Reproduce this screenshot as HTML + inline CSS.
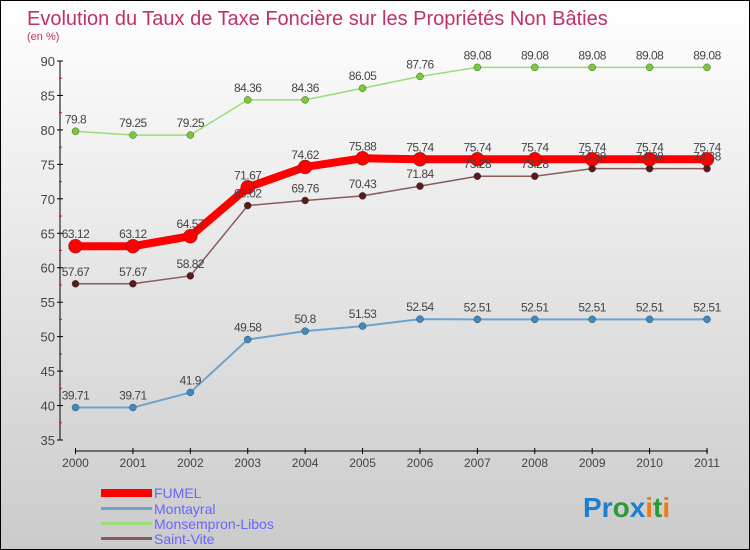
<!DOCTYPE html>
<html><head><meta charset="utf-8"><style>
body{margin:0}
#c{position:relative;width:750px;height:550px;box-sizing:border-box;border:1px solid #000;background:linear-gradient(#fff,#cbcbcb);font-family:"Liberation Sans",sans-serif;overflow:hidden}
</style></head><body>
<div id="c">
<svg id="s" width="748" height="548">
<text x="26" y="24" font-size="20" fill="#c0306a">Evolution du Taux de Taxe Foncière sur les Propriétés Non Bâties</text>
<text x="26" y="39" font-size="11" fill="#c0306a">(en %)</text>
<g id="axes"></g><g id="series"></g>
<g>
<rect x="100" y="488" width="51" height="8" fill="#f00"/>
<text x="153" y="497" font-size="14" fill="#6666ff">FUMEL</text>
<rect x="100" y="506" width="51" height="3" fill="#6fa3cc"/>
<text x="153" y="513" font-size="14" fill="#6666ff">Montayral</text>
<rect x="100" y="521" width="51" height="3" fill="#99dd77"/>
<text x="153" y="528" font-size="14" fill="#6666ff">Monsempron-Libos</text>
<rect x="100" y="536" width="51" height="3" fill="#8b5a5a"/>
<text x="153" y="543" font-size="14" fill="#6666ff">Saint-Vite</text>
</g>
<text x="582" y="516" font-size="28" font-weight="bold"><tspan fill="#1a7fcf">Pr</tspan><tspan fill="#2a9a3a">o</tspan><tspan fill="#1a7fcf">x</tspan><tspan fill="#f07a10">i</tspan><tspan fill="#2a9a3a">t</tspan><tspan fill="#f07a10">i</tspan></text>
</svg></div>
<script>
const years=[2000,2001,2002,2003,2004,2005,2006,2007,2008,2009,2010,2011];
const yTicks=[35,40,45,50,55,60,65,70,75,80,85,90];
const fumel=[63.12,63.12,64.57,71.67,74.62,75.88,75.74,75.74,75.74,75.74,75.74,75.74];
const montayral=[39.71,39.71,41.9,49.58,50.8,51.53,52.54,52.51,52.51,52.51,52.51,52.51];
const monsempron=[79.8,79.25,79.25,84.36,84.36,86.05,87.76,89.08,89.08,89.08,89.08,89.08];
const saintVite=[57.67,57.67,58.82,69.02,69.76,70.43,71.84,73.28,73.28,74.38,74.38,74.38];
const NS="http://www.w3.org/2000/svg";
const X=i=>74.5+i*(706-74.5)/11;
const Y=v=>439-(v-35)*(439-60)/55;
function mk(t,a,p){const e=document.createElementNS(NS,t);for(const k in a)e.setAttribute(k,a[k]);p.appendChild(e);return e;}
const ax=document.getElementById('axes');
const yl=mk('line',{x1:59,y1:60,x2:59,y2:439,stroke:'#000','stroke-width':1},ax);


yTicks.forEach((t,i)=>{
 mk('line',{x1:56,x2:62,y1:Y(t),y2:Y(t),stroke:'#000'},ax);
 if(i<yTicks.length-1)mk('line',{x1:58,x2:61,y1:Y(t+2.5),y2:Y(t+2.5),stroke:'#f00'},ax);
 const tx=mk('text',{x:54,y:Y(t)+5,'font-size':13,fill:'#444','text-anchor':'end'},ax);
 tx.textContent=t;
 
 
});
const xl=mk('line',{x1:74.5,y1:450,x2:707,y2:450,stroke:'#000','stroke-width':1},ax);


years.forEach((y,i)=>{
 mk('line',{x1:X(i),x2:X(i),y1:447,y2:453,stroke:'#000'},ax);
 const tx=mk('text',{x:X(i),y:466,'font-size':12,fill:'#444','text-anchor':'middle'},ax);
 tx.textContent=y;
 
 
});
const sg=document.getElementById('series');
function draw(vals,name,color,lw,r,dot){
 const g=mk('g',{},sg);
 
 
 const pl=mk('polyline',{points:vals.map((v,i)=>X(i)+','+Y(v)).join(' '),fill:'none',stroke:color,'stroke-width':lw},g);
 
 
 vals.forEach((v,i)=>{
  const c=mk('circle',{cx:X(i),cy:Y(v),r:r,fill:dot,stroke:'#333','stroke-width':0.4},g);
  
  
  const t=mk('text',{x:X(i),y:Y(v)-8,'font-size':12,fill:'#444','text-anchor':'middle','letter-spacing':'-0.5'},g);
  t.textContent=v;
  
  
 });
}
draw(montayral,'montayral','#6fa3cc',2,3.5,'#3a8ac4');
draw(monsempron,'monsempron-libos','#99dd77',1.5,3.5,'#77cc33');
draw(fumel,'fumel','#f00',8,7,'#f00');
draw(saintVite,'saint-vite','#8b5a5a',1.5,3.5,'#5a1a1a');
</script>
</body></html>
